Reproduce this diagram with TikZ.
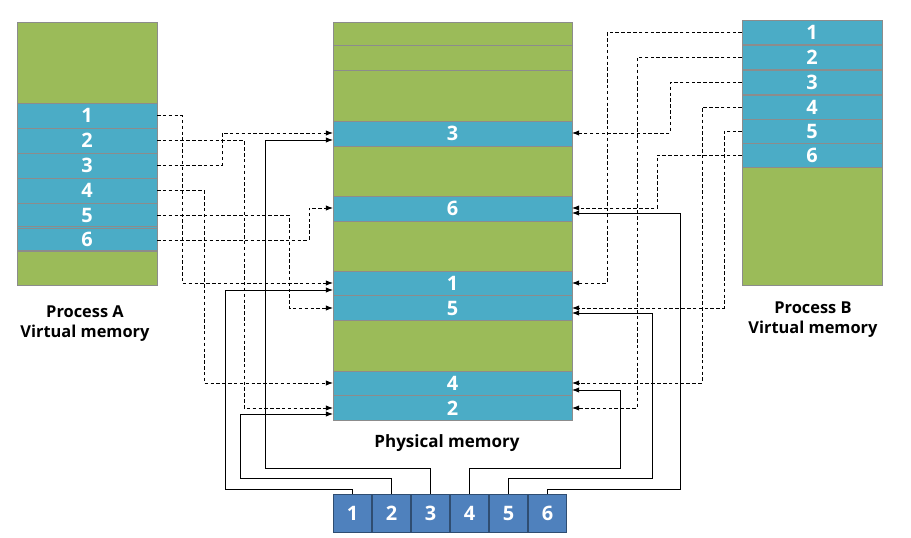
\documentclass[tikz,border=0pt]{standalone}
\usepackage{fontspec}
\setmainfont{Open Sans}
\usetikzlibrary{arrows.meta}
\definecolor{memgreen}{HTML}{9BBB59}
\definecolor{memblue}{HTML}{4BACC6}
\definecolor{pageblue}{HTML}{4F81BD}
\tikzset{
  blk/.style={draw=black!45, inner sep=0pt, outer sep=0pt, text=white,
    font=\fontsize{17}{20}\selectfont\bfseries},
  vcell/.style={blk, fill=memblue, minimum width=4.2cm, minimum height=0.75cm},
  pcell/.style={blk, fill=memblue, minimum width=7.17cm, minimum height=0.74cm},
  page/.style={blk, fill=pageblue, draw=pageblue!60!black, minimum width=1.14cm, minimum height=1.14cm},
  vlink/.style={densely dashed, thick, -{Latex[length=6pt]}},
  plink/.style={thick, -{Latex[length=6pt]}},
  caption/.style={font=\fontsize{14}{17}\selectfont\bfseries, align=center}
}
\begin{document}
\begin{tikzpicture}[x=0.03cm, y=-0.03cm]
\useasboundingbox (0,0) rectangle (911,538);

% process A
\draw[draw=black!45, fill=memgreen] (17,22) rectangle (157,285);
\foreach \i/\y in {1/115.5,2/140.5,3/165.5,4/190.5,5/215.5,6/239} {
  \node[vcell] (pa\i) at (87,\y) {\i};
}
\node[vcell, minimum height=0.66cm] at (87,239) {6};
\node[caption] (capa) at (85,324) {Process A\\Virtual memory};

% process B
\draw[draw=black!45, fill=memgreen] (742,20) rectangle (882,285);
\foreach \i/\y in {1/32.5,2/57.5,3/82.5,4/107,5/131,6/155} {
  \node[vcell, minimum height=0.73cm] (pb\i) at (812,\y) {\i};
}
\node[caption] (capb) at (813,320) {Process B\\Virtual memory};

% physical memory
\draw[draw=black!45, fill=memgreen] (333,22) rectangle (572,420);
\draw[black!45] (333,45) -- (572,45) (333,70) -- (572,70);
\foreach \i/\y in {3/133.5,6/208.5,1/283.5,5/308,4/383.5,2/408} {
  \node[pcell] (ph\i) at (452.5,\y) {\i};
}
\node[caption, font=\fontsize{14.5}{17}\selectfont\bfseries] (caph) at (447,443) {Physical memory};

% pages
\foreach \i in {1,...,6} {
  \node[page] (pg\i) at (333+19.5+39*\i-39,513) {\i};
}

% A -> physical
\draw[vlink] (pa1.east) -| (182,283) -- (ph1.west |- 0,283);
\draw[vlink] (pa2.east) -| (244,408) -- (ph2.west |- 0,408);
\draw[vlink] (pa3.east) -| (222,133) -- (ph3.west |- 0,133);
\draw[vlink] (pa4.east) -| (204,383) -- (ph4.west |- 0,383);
\draw[vlink] (pa5.east) -| (289,308) -- (ph5.west |- 0,308);
\draw[vlink] (pa6.east |- 0,240) -| (309,208) -- (ph6.west |- 0,208);

% B -> physical
\draw[vlink] (pb1.west) -| (607,283) -- (ph1.east |- 0,283);
\draw[vlink] (pb2.west) -| (637,408) -- (ph2.east |- 0,408);
\draw[vlink] (pb3.west) -| (670,133) -- (ph3.east |- 0,133);
\draw[vlink] (pb4.west) -| (702,383) -- (ph4.east |- 0,383);
\draw[vlink] (pb5.west) -| (724,308) -- (ph5.east |- 0,308);
\draw[vlink] (pb6.west) -| (657,208) -- (ph6.east |- 0,208);

% pages -> physical
\draw[plink] (pg1.north) |- (225,489) |- (ph1.west |- 0,290);
\draw[plink] (pg2.north) |- (240,478) |- (ph2.west |- 0,414);
\draw[plink] (pg3.north) |- (265,468) |- (ph3.west |- 0,140);
\draw[plink] (pg4.north) |- (620,468) |- (ph4.east |- 0,390);
\draw[plink] (pg5.north) |- (652,478) |- (ph5.east |- 0,313);
\draw[plink] (pg6.north) |- (680,489) |- (ph6.east |- 0,213);
\end{tikzpicture}
\end{document}
